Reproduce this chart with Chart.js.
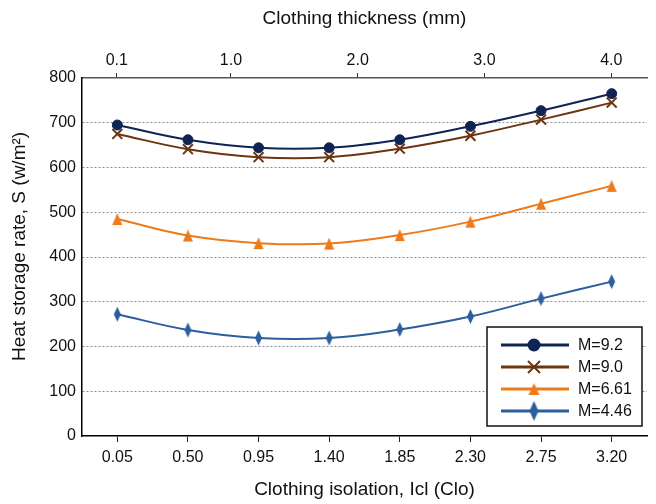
<!DOCTYPE html>
<html>
<head>
<meta charset="utf-8">
<script src="https://cdn.jsdelivr.net/npm/chart.js@4.4.1/dist/chart.umd.min.js"></script>
<style>
  html, body { margin: 0; padding: 0; background: #fff; }
  canvas { display: block; }
</style>
</head>
<body>
<canvas id="chart" width="656" height="504"></canvas>
<script>
// clothing isolation (Clo), bottom axis
const cloLabels = ['0.05', '0.50', '0.95', '1.40', '1.85', '2.30', '2.75', '3.20'];
// clothing thickness (mm), top axis
const thicknessTicks = [0.1, 1.0, 2.0, 3.0, 4.0];
const yTicks = [0, 100, 200, 300, 400, 500, 600, 700, 800];

// heat storage rate S (W/m2) per metabolic rate
const m92 = [695, 662, 644, 644, 662, 692, 727, 765];
const m90 = [675, 641, 623, 623, 642, 671, 707, 745];
const m661 = [485, 448, 431, 430, 449, 479, 519, 559];
const m446 = [272, 237, 219, 219, 238, 267, 307, 345];

const navy = '#0d2455', brown = '#6c3512', orange = '#ee7b1b', blue = '#2c5d9d';
const FONT = '"Liberation Sans", Arial, Helvetica, sans-serif';

// small canvases used as point styles (narrow triangle / tall diamond)
function shape(kind, w, h, color) {
  const c = document.createElement('canvas');
  c.width = w + 2; c.height = h + 2;
  const g = c.getContext('2d');
  g.fillStyle = color;
  g.beginPath();
  const cx = c.width / 2, cy = c.height / 2;
  if (kind === 'tri') {
    g.moveTo(cx, 1); g.lineTo(w + 1, h + 1); g.lineTo(1, h + 1);
  } else {
    g.moveTo(cx, 1); g.lineTo(w + 1, cy); g.lineTo(cx, h + 1); g.lineTo(1, cy);
  }
  g.closePath();
  g.fill();
  return c;
}
const triPt = shape('tri', 10, 12, orange);
const diaPt = shape('dia', 7, 15, blue);
const triLeg = shape('tri', 11, 12, orange);
const diaLeg = shape('dia', 9, 20, blue);

const legendMarks = [
  { kind: 'circle', r: 6.5 },
  { kind: 'x', r: 6 },
  { kind: 'img', img: triLeg },
  { kind: 'img', img: diaLeg }
];

function drawMark(ctx, m, x, y, color) {
  ctx.save();
  ctx.fillStyle = color; ctx.strokeStyle = color;
  if (m.kind === 'circle') {
    ctx.beginPath(); ctx.arc(x, y, m.r, 0, Math.PI * 2); ctx.fill();
  } else if (m.kind === 'x') {
    ctx.lineWidth = 2;
    ctx.beginPath();
    ctx.moveTo(x - m.r, y - m.r); ctx.lineTo(x + m.r, y + m.r);
    ctx.moveTo(x + m.r, y - m.r); ctx.lineTo(x - m.r, y + m.r);
    ctx.stroke();
  } else {
    ctx.drawImage(m.img, x - m.img.width / 2, y - m.img.height / 2);
  }
  ctx.restore();
}

const legendBox = {
  id: 'legendBox',
  afterDraw(chart) {
    const { ctx, chartArea } = chart;
    const w = 155, h = 99;
    const x0 = chartArea.right - 5 - w, y0 = chartArea.bottom - 10 - h;
    ctx.save();
    ctx.fillStyle = '#fff';
    ctx.fillRect(x0, y0, w, h);
    ctx.strokeStyle = '#111';
    ctx.lineWidth = 1.5;
    ctx.strokeRect(x0, y0, w, h);
    chart.data.datasets.forEach((ds, i) => {
      const y = y0 + 18 + i * 22;
      ctx.strokeStyle = ds.borderColor;
      ctx.lineWidth = 3;
      ctx.beginPath(); ctx.moveTo(x0 + 14, y); ctx.lineTo(x0 + 82, y); ctx.stroke();
      drawMark(ctx, legendMarks[i], x0 + 47, y, ds.borderColor);
      ctx.fillStyle = '#111';
      ctx.font = '16px ' + FONT;
      ctx.textBaseline = 'middle';
      ctx.textAlign = 'left';
      ctx.fillText(ds.label, x0 + 91, y + 1);
    });
    ctx.restore();
  }
};

Chart.defaults.font.family = FONT;
Chart.defaults.font.size = 16;
Chart.defaults.color = '#111';

new Chart(document.getElementById('chart'), {
  type: 'line',
  data: {
    labels: cloLabels,
    datasets: [
      { label: 'M=9.2', data: m92, borderColor: navy, backgroundColor: navy, pointStyle: 'circle',
        pointRadius: 5, pointBorderWidth: 1, borderWidth: 2, tension: 0.4 },
      { label: 'M=9.0', data: m90, borderColor: brown, backgroundColor: brown, pointStyle: 'crossRot',
        pointRadius: 7, pointBorderWidth: 2, borderWidth: 2, tension: 0.4 },
      { label: 'M=6.61', data: m661, borderColor: orange, backgroundColor: orange, pointStyle: triPt,
        pointRadius: 5, borderWidth: 2, tension: 0.4 },
      { label: 'M=4.46', data: m446, borderColor: blue, backgroundColor: blue, pointStyle: diaPt,
        pointRadius: 5, borderWidth: 2, tension: 0.4 }
    ]
  },
  options: {
    responsive: false,
    animation: false,
    events: [],
    layout: { padding: 0 },
    plugins: { legend: { display: false }, tooltip: { enabled: false } },
    scales: {
      x: {
        type: 'category',
        position: 'bottom',
        offset: true,
        grid: { drawOnChartArea: false, drawTicks: true, tickLength: 6, tickColor: '#222', tickWidth: 1 },
        border: { display: true, color: '#000', width: 1.5 },
        ticks: { padding: 6, maxRotation: 0, autoSkip: false },
        title: { display: true, text: 'Clothing isolation, Icl (Clo)', font: { size: 19 }, padding: { top: 0, bottom: 3 } },
        afterFit: s => { s.height = 68; }
      },
      x2: {
        type: 'linear',
        position: 'top',
        min: -0.1747,
        max: 4.2818,
        afterBuildTicks: s => { s.ticks = thicknessTicks.map(v => ({ value: v })); },
        grid: { drawOnChartArea: false, drawTicks: true, tickLength: 5, tickColor: '#333', tickWidth: 1 },
        border: { display: true, color: '#555', width: 1.5 },
        ticks: { padding: 3, maxRotation: 0, callback: v => v.toFixed(1) },
        title: { display: true, text: 'Clothing thickness (mm)', font: { size: 19 }, padding: { top: 7, bottom: 0 } },
        afterFit: s => { s.height = 78; }
      },
      y: {
        min: 0,
        max: 800,
        afterBuildTicks: s => { s.ticks = yTicks.map(v => ({ value: v })); },
        grid: {
          drawTicks: false,
          lineWidth: 1,
          color: c => (c.tick && (c.tick.value === 0 || c.tick.value === 800)) ? 'rgba(0,0,0,0)' : '#8c8c8c'
        },
        border: { display: true, color: '#000', width: 1.5, dash: [2, 2] },
        ticks: { padding: 6 },
        title: { display: true, text: '    Heat storage rate, S (w/m²)', font: { size: 19 }, padding: { top: 8, bottom: 0 } },
        afterFit: s => { s.width = 82; }
      }
    }
  },
  plugins: [legendBox]
});
</script>
</body>
</html>
